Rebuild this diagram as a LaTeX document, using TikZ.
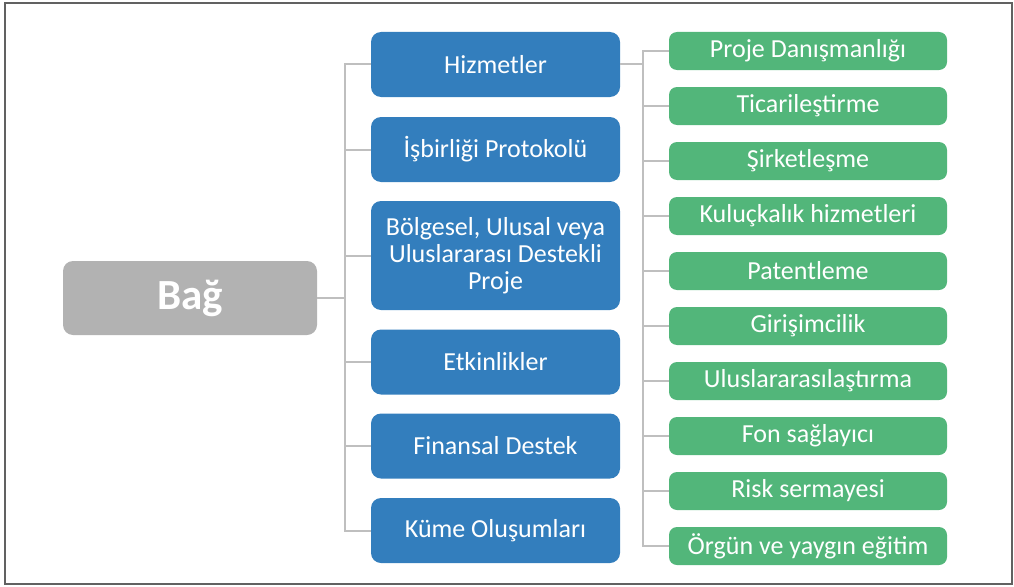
\documentclass[tikz,border=0pt]{standalone}
\usepackage{fontspec}
\setmainfont{Carlito}
\usepackage{tikz}
\definecolor{topicblue}{RGB}{51,126,189}
\definecolor{servgreen}{RGB}{82,182,122}
\definecolor{rootgray}{RGB}{178,178,178}
\definecolor{linkgray}{RGB}{191,191,191}
\tikzset{root/.style={fill=rootgray, rounded corners=10pt, minimum width=254pt, minimum height=74pt, text=white, font=\fontsize{43}{48}\selectfont\bfseries},
  topic/.style={fill=topicblue, rounded corners=10pt, minimum width=249pt, minimum height=65pt, text=white, align=center, font=\fontsize{26}{27}\selectfont},
  serv/.style={fill=servgreen, rounded corners=8pt, minimum width=278pt, minimum height=38pt, inner sep=0pt, text=white, font=\fontsize{26}{27}\selectfont},
  link/.style={draw=linkgray, line width=2pt}}

\begin{document}
\begin{tikzpicture}[x=1pt, y=-1pt]
    \useasboundingbox (0, 0) rectangle (1014, 586);
    \draw[line width=1.8pt, draw=black!62] (5, 3) rectangle (1012, 584);
    \node[root] (Bag) at (190, 298) {Bağ};
    \node[topic] (Hiz) at (495.5, 64.5) {Hizmetler};
    \node[topic] (Isb) at (495.5, 149.5) {İşbirliği Protokolü};
    \node[topic, minimum height=109pt] (Bolg) at (495.5, 255.5) {Bölgesel, Ulusal veya\\Uluslararası Destekli\\Proje};
    \node[topic] (Etk) at (495.5, 362) {Etkinlikler};
    \node[topic] (Fin) at (495.5, 446) {Finansal Destek};
    \node[topic] (Kume) at (495.5, 530.5) {Küme Oluşumları};
    \node[serv] (PD) at (808, 51) {Proje Danışmanlığı};
    \node[serv] (Tic) at (808, 106) {Ticarileştirme};
    \node[serv] (Sirk) at (808, 161) {Şirketleşme};
    \node[serv] (Kul) at (808, 216) {Kuluçkalık hizmetleri};
    \node[serv] (Pat) at (808, 271) {Patentleme};
    \node[serv] (Gir) at (808, 326) {Girişimcilik};
    \node[serv] (Ulus) at (808, 381) {Uluslararasılaştırma};
    \node[serv] (Fon) at (808, 436) {Fon sağlayıcı};
    \node[serv] (Risk) at (808, 491) {Risk sermayesi};
    \node[serv] (Orgun) at (808, 546) {Örgün ve yaygın eğitim};
    % tree lines
    \coordinate (trunk) at (345, 298);
    \coordinate (hub) at (643, 64.5);
    \draw[link] (Bag) -- (trunk);
    \draw[link] (trunk) |- (Hiz.west);
    \draw[link] (trunk) |- (Isb.west);
    \draw[link] (trunk) |- (Bolg.west);
    \draw[link] (trunk) |- (Etk.west);
    \draw[link] (trunk) |- (Fin.west);
    \draw[link] (trunk) |- (Kume.west);
    \draw[link] (Hiz) -- (hub);
    \draw[link] (hub) |- (PD.west);
    \draw[link] (hub) |- (Tic.west);
    \draw[link] (hub) |- (Sirk.west);
    \draw[link] (hub) |- (Kul.west);
    \draw[link] (hub) |- (Pat.west);
    \draw[link] (hub) |- (Gir.west);
    \draw[link] (hub) |- (Ulus.west);
    \draw[link] (hub) |- (Fon.west);
    \draw[link] (hub) |- (Risk.west);
    \draw[link] (hub) |- (Orgun.west);
  \end{tikzpicture}
\end{document}
